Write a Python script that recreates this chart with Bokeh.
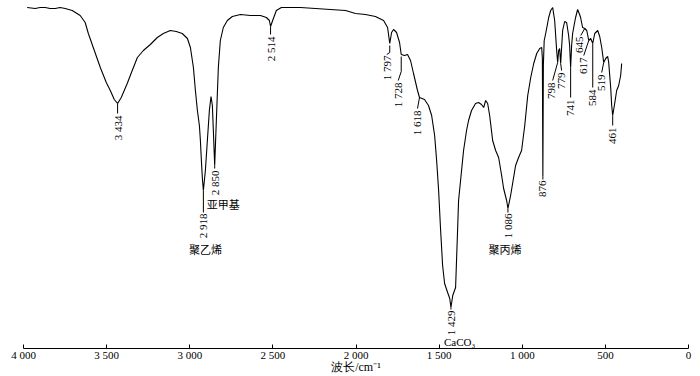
import math
from bokeh.plotting import figure
from bokeh.models import Range1d, FixedTicker, ColumnDataSource
from bokeh.core.properties import value
from bokeh.embed import file_html
from bokeh.resources import INLINE

# ---------------- data ----------------
wavenumber = [3978, 3930, 3900, 3869, 3840, 3809, 3780, 3749, 3707, 3659, 3629, 3610, 3574, 3538,
              3502, 3478, 3454, 3434, 3412, 3376, 3346, 3315, 3279, 3237, 3195, 3159, 3117, 3081,
              3045, 3014, 2996, 2978, 2966, 2954, 2942, 2936, 2930, 2924, 2918, 2906, 2894, 2882,
              2872, 2864, 2858, 2850, 2840, 2828, 2816, 2798, 2774, 2744, 2695, 2635, 2575, 2539,
              2521, 2514, 2497, 2479, 2449, 2394, 2334, 2244, 2154, 2063, 2003, 1943, 1883, 1834,
              1810, 1797, 1786, 1774, 1756, 1738, 1728, 1708, 1690, 1672, 1654, 1630, 1618, 1588,
              1564, 1545, 1527, 1515, 1503, 1491, 1479, 1467, 1449, 1436, 1429, 1418, 1401, 1389,
              1383, 1371, 1353, 1335, 1323, 1305, 1281, 1263, 1245, 1232, 1220, 1208, 1196, 1178,
              1160, 1142, 1124, 1112, 1094, 1086, 1070, 1058, 1040, 1022, 1004, 985, 967, 949,
              931, 913, 895, 883, 879, 876, 873, 868, 859, 841, 829, 817, 805, 793, 787, 781,
              775, 769, 757, 745, 733, 721, 715, 709, 703, 697, 685, 679, 667, 655, 649, 637,
              624, 612, 600, 588, 576, 564, 546, 534, 522, 510, 498, 486, 480, 468, 462, 456,
              444, 432, 420, 408, 402]
transmittance = [343, 342, 343, 343, 342, 342, 343, 342, 340, 335, 328, 317, 300, 283,
                 268, 260, 251, 247, 253, 267, 280, 293, 300, 306, 313, 317, 320, 319,
                 317, 312, 303, 283, 260, 240, 225, 210, 190, 172, 160, 180, 210, 240,
                 254, 245, 220, 185, 230, 283, 310, 323, 330, 334, 336, 335, 335, 333,
                 330, 324, 332, 340, 343, 343, 343, 342, 341, 340, 337, 336, 334, 330,
                 323, 307, 318, 321, 318, 308, 296, 295, 296, 290, 277, 260, 253, 251,
                 245, 235, 215, 190, 160, 120, 85, 67, 58, 52, 43, 55, 63, 120,
                 150, 170, 200, 220, 230, 240, 247, 248, 246, 243, 250, 247, 235, 210,
                 200, 193, 175, 162, 150, 142, 155, 167, 185, 193, 200, 225, 255, 273,
                 287, 297, 302, 303, 292, 174, 285, 310, 317, 333, 340, 343, 330, 300, 288, 300,
                 302, 287, 320, 329, 328, 315, 305, 283, 305, 317, 328, 333, 341, 336, 333, 323,
                 322, 320, 310, 312, 307, 317, 320, 314, 303, 288, 292, 294, 288, 263, 245, 235,
                 247, 260, 265, 275, 287]

peak_wn = [3434, 2918, 2850, 2514, 1797, 1728, 1618, 1429, 1086, 876,
           787, 769, 709, 624, 600, 576, 510, 456]
peak_T = [247, 160, 185, 324, 307, 296, 253, 43, 142, 174,
          288, 287, 283, 322, 310, 307, 288, 235]
peak_labels = ["3 434", "2 918", "2 850", "2 514", "1 797", "1 728", "1 618", "1 429", "1 086", "876",
               "798", "779", "741", "645", "617", "584", "519", "461"]

name_peaks = ["2 918", "2 850", "1 429", "1 086"]
name_texts = ["聚乙烯", "亚甲基", "CaCO₃", "聚丙烯"]

x_ticks = [4000, 3500, 3000, 2500, 2000, 1500, 1000, 500, 0]
x_tick_labels = ["4 000", "3 500", "3 000", "2 500", "2 000", "1 500", "1 000", "500", "0"]
x_title = "波长/cm⁻¹"

# ---------------- layout / style ----------------
W, H = 700, 376
BL, BR, BT, BB = 23, 12, 5, 28
FW = W - BL - BR
X0, X1 = 4000, 0
Y0, Y1 = 2, 345
SX = (X0 - X1) / FW          # wavenumber per px

# leader routes and text offsets, in reference pixels (dx right, dy down)
leader = {
    "3 434": ([(0, 0), (0, 10)], (0, 12)),
    "2 918": ([(0, 0), (0, 22)], (0, 23)),
    "2 850": ([(0, 0), (0, 3)], (0, 5)),
    "2 514": ([(0, 0), (0, 8)], (0, 10)),
    "1 797": ([(0, 2), (0, 9), (-3, 11)], (-3, 12)),
    "1 728": ([(0, 2), (0, 17), (-3, 26)], (-3, 28)),
    "1 618": ([(0, 0), (-2, 11)], (-3, 13)),
    "1 429": ([(0, 0), (0, 2)], (0, 3)),
    "1 086": ([(0, 0), (0, 4)], (0, 5)),
    "876": ([(0, 0), (0, 3)], (0, 4)),
    "798": ([(0, 0), (-5, 18)], (-6, 20)),
    "779": ([(0, 0), (1, 7)], (1, 9)),
    "741": ([(0, 0), (0, 30)], (0, 32)),
    "645": ([(0, 0), (-4, 7)], (-5, 8)),
    "617": ([(0, 0), (-5, 15)], (-5, 17)),
    "584": ([(0, 0), (0, 44)], (0, 46)),
    "519": ([(0, 0), (-2, 10)], (-2, 12)),
    "461": ([(0, 0), (0, 10)], (0, 12)),
}
name_offset = {
    "2 918": ((2, 58), "center"),
    "2 850": ((-8, 38), "left"),
    "1 429": ((-7, 34), "left"),
    "1 086": ((-3, 40), "center"),
}

NUM_FONT = "Liberation Serif"
CJK_FONT = "Noto Sans CJK SC"

p = figure(width=W, height=H, output_backend="svg", toolbar_location=None,
           x_range=Range1d(X0, X1), y_range=Range1d(Y0, Y1),
           min_border_left=BL, min_border_right=BR, min_border_top=BT, min_border_bottom=BB)
p.outline_line_color = None
p.xgrid.visible = False
p.ygrid.visible = False
p.yaxis.visible = False
p.background_fill_color = "white"
p.border_fill_color = "white"

ax = p.xaxis[0]
ax.ticker = FixedTicker(ticks=x_ticks)
ax.major_label_overrides = {t: s for t, s in zip(x_ticks, x_tick_labels)}
ax.axis_line_color = "black"
ax.axis_line_width = 1
ax.major_tick_in = 4
ax.major_tick_out = 0
ax.major_tick_line_color = "black"
ax.minor_tick_line_color = None
ax.major_label_text_font = NUM_FONT
ax.major_label_text_font_size = "11px"
ax.major_label_text_color = "black"
ax.major_label_standoff = 0
ax.axis_label = x_title
ax.axis_label_text_font = NUM_FONT
ax.axis_label_text_font_size = "12px"
ax.axis_label_text_font_style = "normal"
ax.axis_label_text_color = "black"
ax.axis_label_standoff = -4

# spectrum
p.line(wavenumber, transmittance, line_color="black", line_width=1.1)

# leader lines and peak labels
lx, ly, tx, ty, tt = [], [], [], [], []
for w, t, lab in zip(peak_wn, peak_T, peak_labels):
    route, toff = leader[lab]
    lx.append([w - dx * SX for dx, dy in route])
    ly.append([t - dy for dx, dy in route])
    tx.append(w - toff[0] * SX)
    ty.append(t - toff[1])
    tt.append(lab)
p.multi_line(lx, ly, line_color="black", line_width=1)
src = ColumnDataSource(dict(x=tx, y=ty, text=tt))
p.text(x="x", y="y", text="text", source=src, angle=math.pi / 2,
       text_align="right", text_baseline="middle", text_font=value(NUM_FONT),
       text_font_size="11px", text_color="black")

# assignment names
for lab, name in zip(name_peaks, name_texts):
    i = peak_labels.index(lab)
    (dx, dy), align = name_offset[lab]
    font = NUM_FONT if name.startswith("Ca") else CJK_FONT
    p.text(x=[peak_wn[i] - dx * SX], y=[peak_T[i] - dy], text=[name],
           text_align=align, text_baseline="middle", text_font=value(font),
           text_font_size="11px", text_color="black")

open("out.html", "w").write(file_html(p, INLINE))
